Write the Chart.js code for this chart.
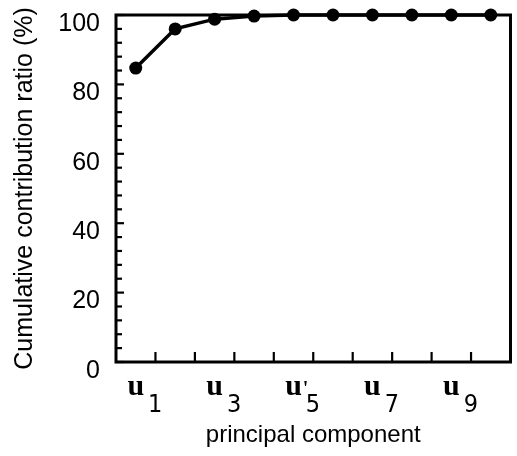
<!DOCTYPE html>
<html>
<head>
<meta charset="utf-8">
<script src="https://cdn.jsdelivr.net/npm/chart.js@4"></script>
<style>
html,body{margin:0;padding:0;background:#fff}
#wrap{width:517px;height:456px}
</style>
</head>
<body>
<div id="wrap"><canvas id="c"></canvas></div>
<script>
// principal components and cumulative contribution ratio (%)
var components=['u1','u2','u3','u4',"u'5",'u6','u7','u8','u9','u10'];
var cumRatio=[84.7,96.0,98.8,99.7,100,100,100,100,100,100];
var yMajor=[0,20,40,60,80,100];
var xLabelIdx=[0,2,4,6,8];   // only u1,u3,u'5,u7,u9 are labelled

// inward tick marks, box frame and u-subscript labels, drawn from the chart's own scales
var frameTicks={
  id:'frameTicks',
  beforeDatasetsDraw:function(chart){
    var ctx=chart.ctx,a=chart.chartArea,x=chart.scales.x,y=chart.scales.y;
    ctx.save();
    ctx.strokeStyle='#000';
    ctx.lineWidth=2.2;
    y.ticks.forEach(function(t){
      if(t.value%4!==0) return;
      var py=y.getPixelForValue(t.value);
      var len=yMajor.indexOf(t.value)>=0?8:6;
      ctx.beginPath();ctx.moveTo(a.left,py);ctx.lineTo(a.left+len,py);ctx.stroke();
    });
    for(var i=0;i<components.length-1;i++){
      var px=(x.getPixelForValue(i)+x.getPixelForValue(i+1))/2;
      ctx.beginPath();ctx.moveTo(px,a.bottom);ctx.lineTo(px,a.bottom-10);ctx.stroke();
    }
    ctx.lineWidth=3;
    ctx.strokeRect(a.left,a.top,a.width,a.height);

    // x labels: bold serif "u" with a sans subscript
    ctx.fillStyle='#000';
    xLabelIdx.forEach(function(i){
      var name=components[i];
      var primed=name.indexOf("'")>=0;
      var sub=name.replace(/[u']/g,'');
      var cx=x.getPixelForValue(i);
      ctx.font='bold 30px "Liberation Serif"';
      ctx.textAlign='center';ctx.textBaseline='alphabetic';
      ctx.fillText('u',cx,a.bottom+33);
      var uw=ctx.measureText('u').width;
      ctx.textAlign='left';
      if(primed){
        ctx.font='bold 20px "Liberation Serif"';
        ctx.fillText("'",cx+uw/2+1,a.bottom+33);
      }
      ctx.font='25px "DejaVu Sans Condensed","Liberation Sans"';
      ctx.fillText(sub,cx+uw/2+4,a.bottom+50);
    });
    ctx.restore();
  }
};

new Chart(document.getElementById('c'),{
  type:'line',
  data:{
    labels:components,
    datasets:[{
      data:cumRatio,
      borderColor:'#000',
      backgroundColor:'#000',
      borderWidth:3.5,
      pointRadius:6.5,
      pointBorderWidth:0,
      tension:0,
      clip:false
    }]
  },
  options:{
    responsive:true,
    maintainAspectRatio:false,
    animation:false,
    layout:{padding:{top:15,right:4,left:0,bottom:0}},
    plugins:{legend:{display:false},tooltip:{enabled:false}},
    scales:{
      x:{
        offset:true,
        grid:{display:false},
        border:{display:false},
        afterFit:function(s){s.height=94;s.paddingLeft=0;s.paddingRight=0;},
        ticks:{display:false},
        title:{display:true,text:'principal component',color:'#000',
          font:{family:'Liberation Sans',size:24},padding:{top:0,bottom:6}}
      },
      y:{
        min:0,max:100,
        grid:{display:false},
        border:{display:false},
        afterFit:function(s){s.width=116;s.paddingTop=0;s.paddingBottom=0;},
        ticks:{
          stepSize:4,autoSkip:false,padding:8,labelOffset:9,color:'#000',
          font:{family:'Liberation Sans',size:25},
          callback:function(v){return yMajor.indexOf(v)>=0?v:'';}
        },
        title:{display:true,text:'Cumulative contribution ratio (%)',color:'#000',
          font:{family:'Liberation Sans',size:25},padding:{top:10,bottom:4}}
      }
    }
  },
  plugins:[frameTicks]
});
</script>
</body>
</html>
